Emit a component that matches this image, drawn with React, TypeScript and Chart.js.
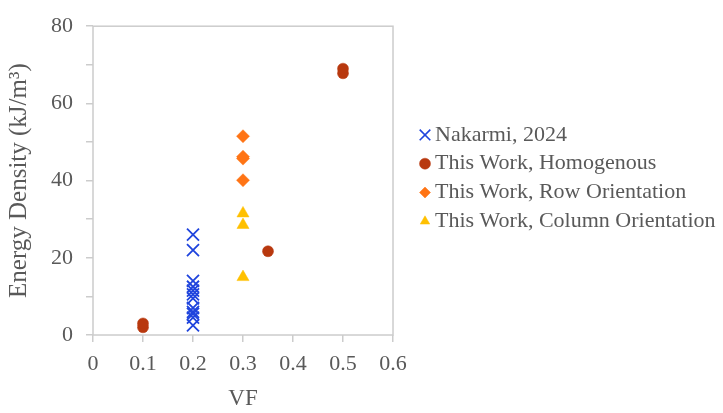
import React, { useEffect, useRef } from 'react';
import { Chart, registerables } from 'chart.js';
import { drawPoint } from 'chart.js/helpers';

Chart.register(...registerables);

// ---- data ----
const seriesNames = [
  'Nakarmi, 2024',
  'This Work, Homogenous',
  'This Work, Row Orientation',
  'This Work, Column Orientation',
];

const nakarmiX = [0.2, 0.2, 0.2, 0.2, 0.2, 0.2, 0.2, 0.2, 0.2, 0.2, 0.2, 0.2];
const nakarmiY = [26, 22, 14, 12.5, 11.5, 10.5, 9.5, 7, 6, 5.5, 4.5, 2.5];

const homogX = [0.1, 0.1, 0.35, 0.5, 0.5];
const homogY = [2, 3, 21.7, 67.8, 69];

const rowX = [0.3, 0.3, 0.3, 0.3];
const rowY = [51.5, 46.2, 45.7, 40.1];

const colX = [0.3, 0.3, 0.3];
const colY = [31.5, 28.5, 15];

const xTickValues = [0, 0.1, 0.2, 0.3, 0.4, 0.5, 0.6];
const yTickLabels = [0, 20, 40, 60, 80];

const xTitle = 'VF';
const yTitle = 'Energy Density (kJ/m\u00B3)';

const TEXT = '#595959';
const FRAME = '#CCCCCC';
const FONT = '"Liberation Serif", "Times New Roman", serif';

const pts = (xs: number[], ys: number[]) => xs.map((x, i) => ({ x, y: ys[i] }));

const framePlugin = {
  id: 'frame',
  beforeDatasetsDraw(chart: any) {
    const { ctx, chartArea: a } = chart;
    ctx.save();
    ctx.strokeStyle = FRAME;
    ctx.lineWidth = 1.5;
    ctx.strokeRect(a.left, a.top, a.right - a.left, a.bottom - a.top);
    ctx.restore();
  },
};

const legendPlugin = {
  id: 'sideLegend',
  afterDraw(chart: any) {
    const { ctx, chartArea: a } = chart;
    const ds = chart.data.datasets;
    const spacing = 28.8;
    const cy = (a.top + a.bottom) / 2 - 2.5;
    const y0 = cy - (spacing * (ds.length - 1)) / 2;
    ds.forEach((d: any, i: number) => {
      const y = y0 + i * spacing;
      const x = a.right + 32;
      ctx.save();
      ctx.fillStyle = d.backgroundColor;
      ctx.strokeStyle = d.borderColor;
      ctx.lineWidth = d.pointStyle === 'crossRot' ? 1.6 : d.borderWidth;
      drawPoint(ctx, { pointStyle: d.pointStyle, radius: d.pointStyle === 'crossRot' ? 7.5 : 5.5, rotation: 0, borderWidth: d.borderWidth }, x, y);
      ctx.fillStyle = TEXT;
      ctx.font = `22px ${FONT}`;
      ctx.textBaseline = 'middle';
      ctx.textAlign = 'left';
      ctx.fillText(d.label, a.right + 42, y);
      ctx.restore();
    });
  },
};

export default function App() {
  const ref = useRef<HTMLCanvasElement | null>(null);

  useEffect(() => {
    document.body.style.margin = '0';
    const canvas = ref.current;
    if (!canvas) return;
    const chart = new Chart(canvas, {
      type: 'scatter',
      data: {
        datasets: [
          {
            label: seriesNames[0],
            data: pts(nakarmiX, nakarmiY),
            pointStyle: 'crossRot',
            pointRadius: 8.5,
            borderWidth: 1.8,
            borderColor: '#1F44DD',
            backgroundColor: '#1F44DD',
          },
          {
            label: seriesNames[1],
            data: pts(homogX, homogY),
            pointStyle: 'circle',
            pointRadius: 5.5,
            borderWidth: 0.5,
            borderColor: '#B8380E',
            backgroundColor: '#B8380E',
          },
          {
            label: seriesNames[2],
            data: pts(rowX, rowY),
            pointStyle: 'rectRot',
            pointRadius: 6.5,
            borderWidth: 0.5,
            borderColor: '#FF7415',
            backgroundColor: '#FF7415',
          },
          {
            label: seriesNames[3],
            data: pts(colX, colY),
            pointStyle: 'triangle',
            pointRadius: 7,
            borderWidth: 0.5,
            borderColor: '#FFC000',
            backgroundColor: '#FFC000',
          },
        ] as any,
      },
      options: {
        responsive: false,
        animation: false,
        layout: { padding: { left: 0, top: 15, right: 330, bottom: 0 } },
        plugins: {
          legend: { display: false },
          tooltip: { enabled: false },
        },
        scales: {
          x: {
            type: 'linear',
            min: 0,
            max: 0.6,
            afterBuildTicks: (scale: any) => {
              scale.ticks = xTickValues.map((v) => ({ value: v }));
            },
            afterFit: (scale: any) => {
              scale.height = 78;
            },
            ticks: {
              color: TEXT,
              font: { family: FONT, size: 22 },
              padding: 9,
              maxRotation: 0,
              callback: (v: any) => String(Number(Number(v).toFixed(1))),
            },
            grid: { display: true, drawOnChartArea: false, drawTicks: true, tickLength: 7, color: FRAME, lineWidth: 1.5 },
            border: { display: false },
            title: { display: true, text: xTitle, color: TEXT, font: { family: FONT, size: 23 }, padding: { top: 0, bottom: 0 } },
          },
          y: {
            type: 'linear',
            min: 0,
            max: 80,
            ticks: {
              stepSize: 10,
              color: TEXT,
              font: { family: FONT, size: 22 },
              padding: 13,
              callback: (v: any) => (yTickLabels.includes(Number(v)) ? String(v) : ''),
            },
            afterFit: (scale: any) => {
              scale.width = 93;
            },
            grid: { display: true, drawOnChartArea: false, drawTicks: true, tickLength: 7, color: FRAME, lineWidth: 1.5 },
            border: { display: false },
            title: { display: true, text: yTitle, color: TEXT, font: { family: FONT, size: 25 }, padding: { top: 4, bottom: 0 } },
          },
        },
      } as any,
      plugins: [framePlugin, legendPlugin],
    });
    return () => chart.destroy();
  }, []);

  return (
    <div style={{ width: 723, height: 413, background: '#fff' }}>
      <canvas ref={ref} width={723} height={413} style={{ width: 723, height: 413, display: 'block' }} />
    </div>
  );
}
